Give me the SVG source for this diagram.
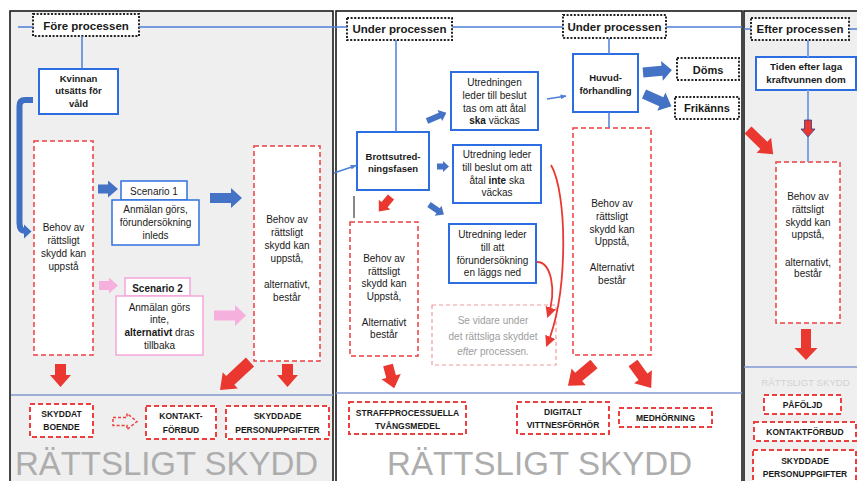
<svg xmlns="http://www.w3.org/2000/svg" width="857" height="481" viewBox="0 0 857 481">
  <defs>
    <style>
      text { font-family: "Liberation Sans", Arial, sans-serif; fill: #1a1a1a; text-anchor: middle; }
      .hd { font-size: 11.5px; font-weight: bold; }
      .t10 { font-size: 10px; }
      .b9 { font-size: 9.5px; font-weight: bold; }
      .cap { font-size: 8.5px; font-weight: bold; }
      .big { font-size: 33px; fill: #adadad; text-anchor: start; }
      .panel { stroke: #1a1a1a; stroke-width: 1.6; }
      .dot { fill: #fff; stroke: #222; stroke-width: 2; stroke-dasharray: 2 1.6; }
      .blue { fill: #fff; stroke: #2c6ee2; stroke-width: 2; }
      .blue15 { fill: #fff; stroke: #2f70e0; stroke-width: 1.5; }
      .pink { fill: #fff; stroke: #f3a6da; stroke-width: 1.5; }
      .rd { fill: #fff; stroke: #ee3f3f; stroke-width: 1.5; stroke-dasharray: 5 3; }
      .rdb { fill: #fff; stroke: #ee3f3f; stroke-width: 2; stroke-dasharray: 5 3; }
      .rdl { fill: #fff; stroke: #f29a9a; stroke-width: 1.2; stroke-dasharray: 4 3; }
      .ln { stroke: #4d7fd6; stroke-width: 1.5; fill: none; }
      .fb { fill: #4472c4; }
      .fr { fill: #ea3730; }
      .fp { fill: #f5b0de; }
      .curve { stroke: #e83a33; stroke-width: 1.8; fill: none; }
    </style>
    <marker id="redHead" viewBox="0 0 10 10" refX="8" refY="5" markerWidth="11" markerHeight="11" markerUnits="userSpaceOnUse" orient="auto">
      <path d="M0,0 L10,5 L0,10 Z" fill="#e83a33"/>
    </marker>
    <marker id="blueHead" viewBox="0 0 10 10" refX="9" refY="5" markerWidth="6" markerHeight="6" markerUnits="userSpaceOnUse" orient="auto">
      <path d="M0,1 L10,5 L0,9 Z" fill="#4d7fd6"/>
    </marker>
  </defs>

  <rect width="857" height="481" fill="#fff"/>

  <!-- three phase panels -->
  <rect class="panel" x="10" y="11" width="323" height="480" fill="#efefef"/>
  <rect class="panel" x="336" y="11" width="406" height="480" fill="#fff"/>
  <rect class="panel" x="744" y="11" width="120" height="480" fill="#efefef"/>

  <!-- large section captions -->
  <text class="big" x="15" y="475" textLength="303">RÄTTSLIGT SKYDD</text>
  <text class="big" x="387" y="475" textLength="305">RÄTTSLIGT SKYDD</text>
  <text x="805.5" y="385.5" style="font-size:9.6px; fill:#d2d2d2">RÄTTSLIGT SKYDD</text>

  <!-- before the process -->
  <g id="fore-processen">
    <rect class="dot" x="33" y="14" width="106" height="22"/>
    <text class="hd" x="86" y="30">Före processen</text>
  </g>
  <g id="kvinnan">
    <rect class="blue" x="39" y="69" width="79" height="45"/>
    <text class="b9" x="78.5" y="81.5">Kvinnan</text>
    <text class="b9" x="78.5" y="94">utsätts för</text>
    <text class="b9" x="78.5" y="106.5">våld</text>
  </g>
  <g id="behov-fore-1">
    <rect class="rd" x="34" y="141" width="59" height="214"/>
    <text class="t10" x="63.5" y="231">Behov av</text>
    <text class="t10" x="63.5" y="244">rättsligt</text>
    <text class="t10" x="63.5" y="257">skydd kan</text>
    <text class="t10" x="63.5" y="270">uppstå</text>
  </g>
  <g id="scenario-1">
    <rect class="blue15" x="121" y="181" width="66" height="19"/>
    <text class="t10" x="154" y="194.5">Scenario 1</text>
    <rect class="blue15" x="112" y="200" width="87" height="45"/>
    <text class="t10" x="155.5" y="213">Anmälan görs,</text>
    <text class="t10" x="155.5" y="226">förundersökning</text>
    <text class="t10" x="155.5" y="239">inleds</text>
  </g>
  <g id="scenario-2">
    <rect class="pink" x="125" y="278" width="65" height="18"/>
    <text class="t10" x="157.5" y="291.5" font-weight="bold">Scenario 2</text>
    <rect class="pink" x="116" y="296" width="87" height="59"/>
    <text class="t10" x="159.5" y="310.5">Anmälan görs</text>
    <text class="t10" x="159.5" y="323">inte,</text>
    <text class="t10" x="159.5" y="335.5"><tspan font-weight="bold">alternativt</tspan> dras</text>
    <text class="t10" x="159.5" y="348.5">tillbaka</text>
  </g>
  <g id="behov-fore-2">
    <rect class="rd" x="254" y="146" width="66" height="215"/>
    <text class="t10" x="287" y="223">Behov av</text>
    <text class="t10" x="287" y="236">rättsligt</text>
    <text class="t10" x="287" y="249">skydd kan</text>
    <text class="t10" x="287" y="262">uppstå,</text>
    <text class="t10" x="287" y="288">alternativt,</text>
    <text class="t10" x="287" y="301">består</text>
  </g>
  <g id="skyddat-boende">
    <rect class="rdb" x="30" y="404" width="63" height="33"/>
    <text class="cap" x="61.5" y="416.5">SKYDDAT</text>
    <text class="cap" x="61.5" y="429.5">BOENDE</text>
  </g>
  <g id="kontaktforbud-1">
    <rect class="rdb" x="146" y="406" width="70" height="33"/>
    <text class="cap" x="181" y="419">KONTAKT-</text>
    <text class="cap" x="181" y="433">FÖRBUD</text>
  </g>
  <g id="skyddade-personuppgifter-1">
    <rect class="rdb" x="226" y="406" width="103" height="33"/>
    <text class="cap" x="277.5" y="419">SKYDDADE</text>
    <text class="cap" x="277.5" y="433">PERSONUPPGIFTER</text>
  </g>

  <!-- during the process -->
  <g id="under-processen-1">
    <rect class="dot" x="347" y="18" width="105" height="22"/>
    <text class="hd" x="399.5" y="33">Under processen</text>
  </g>
  <g id="under-processen-2">
    <rect class="dot" x="563" y="15" width="103" height="23"/>
    <text class="hd" x="614.5" y="31">Under processen</text>
  </g>
  <g id="brottsutredningsfasen">
    <rect class="blue" x="357" y="132" width="72" height="58"/>
    <text class="b9" x="393" y="159.5">Brottsutred-</text>
    <text class="b9" x="393" y="171.5">ningsfasen</text>
  </g>
  <g id="atal-vackas">
    <rect class="blue" x="451" y="72" width="87" height="58"/>
    <text class="t10" x="494.5" y="85.5">Utredningen</text>
    <text class="t10" x="494.5" y="98.5">leder till beslut</text>
    <text class="t10" x="494.5" y="111.5">tas om att åtal</text>
    <text class="t10" x="494.5" y="124"><tspan font-weight="bold">ska</tspan> väckas</text>
  </g>
  <g id="atal-inte-vackas">
    <rect class="blue" x="453" y="145" width="88" height="58"/>
    <text class="t10" x="497" y="157.5">Utredning leder</text>
    <text class="t10" x="497" y="170.5">till beslut om att</text>
    <text class="t10" x="497" y="184">åtal <tspan font-weight="bold">inte</tspan> ska</text>
    <text class="t10" x="497" y="196">väckas</text>
  </g>
  <g id="forundersokning-laggs-ned">
    <rect class="blue" x="449" y="224" width="87" height="59"/>
    <text class="t10" x="492.5" y="237.5">Utredning leder</text>
    <text class="t10" x="492.5" y="250.5">till att</text>
    <text class="t10" x="492.5" y="263.5">förundersökning</text>
    <text class="t10" x="492.5" y="276">en läggs ned</text>
  </g>
  <g id="se-vidare">
    <rect class="rdl" x="432" y="305" width="124" height="60"/>
    <text class="t10" x="493" y="323.5" style="fill:#9d9d9d">Se vidare under</text>
    <text class="t10" x="493" y="339.5" style="fill:#9d9d9d">det rättsliga skyddet</text>
    <text class="t10" x="493" y="354.5" style="fill:#9d9d9d"><tspan font-style="italic">efter</tspan> processen.</text>
  </g>
  <g id="behov-under-1">
    <rect class="rd" x="350" y="222" width="68" height="134"/>
    <text class="t10" x="384" y="261.5">Behov av</text>
    <text class="t10" x="384" y="274.5">rättsligt</text>
    <text class="t10" x="384" y="287">skydd kan</text>
    <text class="t10" x="384" y="299.5">Uppstå,</text>
    <text class="t10" x="384" y="325.5">Alternativt</text>
    <text class="t10" x="384" y="338">består</text>
  </g>
  <g id="huvudforhandling">
    <rect class="blue" x="573" y="54" width="65" height="58"/>
    <text class="b9" x="605.5" y="80.5">Huvud-</text>
    <text class="b9" x="605.5" y="93.5">förhandling</text>
  </g>
  <g id="doms">
    <rect class="dot" x="677" y="58" width="62" height="22"/>
    <text x="708" y="74" style="font-size:11px; font-weight:bold">Döms</text>
  </g>
  <g id="frikanns">
    <rect class="dot" x="675" y="97" width="64" height="22"/>
    <text x="707" y="112" style="font-size:11px; font-weight:bold">Frikänns</text>
  </g>
  <g id="behov-under-2">
    <rect class="rd" x="573" y="128" width="78" height="227"/>
    <text class="t10" x="612" y="206.5">Behov av</text>
    <text class="t10" x="612" y="219.5">rättsligt</text>
    <text class="t10" x="612" y="232.5">skydd kan</text>
    <text class="t10" x="612" y="245">Uppstå,</text>
    <text class="t10" x="612" y="270.5">Alternativt</text>
    <text class="t10" x="612" y="283.5">består</text>
  </g>
  <g id="tvangsmedel">
    <rect class="rdb" x="349" y="402" width="117" height="32"/>
    <text class="cap" x="407.5" y="416">STRAFFPROCESSUELLA</text>
    <text class="cap" x="407.5" y="429">TVÅNGSMEDEL</text>
  </g>
  <g id="digitalt-vittnesforhor">
    <rect class="rdb" x="517" y="402" width="92" height="32"/>
    <text class="cap" x="563" y="415">DIGITALT</text>
    <text class="cap" x="563" y="428">VITTNESFÖRHÖR</text>
  </g>
  <g id="medhorning">
    <rect class="rdb" x="619" y="408" width="93" height="19"/>
    <text class="cap" x="665.5" y="421">MEDHÖRNING</text>
  </g>

  <!-- after the process -->
  <g id="efter-processen">
    <rect class="dot" x="751" y="18" width="98" height="22"/>
    <text class="hd" x="800" y="33">Efter processen</text>
  </g>
  <g id="laga-kraft">
    <rect class="blue" x="756" y="57" width="100" height="33"/>
    <text x="806" y="70" style="font-size:9.8px; font-weight:bold">Tiden efter laga</text>
    <text x="806" y="82.5" style="font-size:9.8px; font-weight:bold">kraftvunnen dom</text>
  </g>
  <g id="behov-efter">
    <rect class="rd" x="776" y="162" width="64" height="161"/>
    <text class="t10" x="808" y="199.5">Behov av</text>
    <text class="t10" x="808" y="212.5">rättsligt</text>
    <text class="t10" x="808" y="225.5">skydd kan</text>
    <text class="t10" x="808" y="237.5">uppstå,</text>
    <text class="t10" x="808" y="265.5">alternativt,</text>
    <text class="t10" x="808" y="277">består</text>
  </g>
  <g id="pafoljd">
    <rect class="rdb" x="764" y="395" width="77" height="19"/>
    <text class="cap" x="802.5" y="408">PÅFÖLJD</text>
  </g>
  <g id="kontaktforbud-2">
    <rect class="rdb" x="754" y="422" width="102" height="19"/>
    <text class="cap" x="805" y="435">KONTAKTFÖRBUD</text>
  </g>
  <g id="skyddade-personuppgifter-2">
    <rect class="rdb" x="753" y="450" width="103" height="36"/>
    <text class="cap" x="805" y="464">SKYDDADE</text>
    <text class="cap" x="805" y="477">PERSONUPPGIFTER</text>
  </g>

  <g id="connectors">
    <!-- timeline lines -->
    <line class="ln" x1="18" y1="27" x2="33" y2="27"/>
    <line class="ln" x1="139" y1="27" x2="347" y2="27"/>
    <line class="ln" x1="452" y1="27" x2="563" y2="27"/>
    <line class="ln" x1="666" y1="27" x2="742" y2="27"/>
    <line class="ln" x1="744" y1="29" x2="751" y2="29"/>
    <line class="ln" x1="849" y1="29" x2="857" y2="29"/>
    <!-- protection baselines -->
    <line stroke="#7f9ad0" stroke-width="1.5" x1="11" y1="395" x2="333" y2="395"/>
    <line stroke="#7f9ad0" stroke-width="1.5" x1="336" y1="393" x2="742" y2="393"/>
    <line stroke="#7f9ad0" stroke-width="1.5" x1="744" y1="367" x2="857" y2="367"/>

    <!-- vertical links -->
    <line class="ln" x1="82" y1="36" x2="82" y2="69"/>
    <line class="ln" x1="396" y1="40" x2="396" y2="132"/>
    <line class="ln" x1="609" y1="38" x2="609" y2="54"/>
    <line class="ln" x1="609" y1="112" x2="609" y2="128"/>
    <line stroke="#7fa2e2" stroke-width="2" x1="808" y1="40" x2="808" y2="57"/>
    <line stroke="#7fa2e2" stroke-width="2" x1="808" y1="90" x2="808" y2="162"/>

    <!-- bent arrow from the violence box down to the first need box -->
    <path d="M33,100 L25,100 Q19.5,100 19.5,106 L19.5,223 Q19.5,231 25,231" stroke="#3f6fc3" stroke-width="6" fill="none"/>
    <path d="M24,224.5 L31.5,231.5 L24,238.5 Z" fill="#3f6fc3"/>

    <!-- thin blue arrows -->
    <line class="ln" x1="334" y1="173" x2="356" y2="165.5" marker-end="url(#blueHead)"/>
    <line class="ln" x1="547" y1="99" x2="566" y2="96" marker-end="url(#blueHead)"/>
    <line stroke="#111" stroke-width="1" x1="354" y1="196" x2="354" y2="218"/>

    <!-- block arrows, left panel -->
    <path class="fb" transform="translate(98,189)" d="M0,-4.5H10V-8.5L20,0L10,8.5V4.5H0Z"/>
    <path class="fb" transform="translate(210,198)" d="M0,-5H21V-10L32,0L21,10V5H0Z"/>
    <path class="fp" transform="translate(99,285.5)" d="M0,-4.5H10V-8L19,0L10,8V4.5H0Z"/>
    <path class="fp" transform="translate(214,315.5)" d="M0,-5H21V-10.5L32,0L21,10.5V5H0Z"/>
    <path class="fr" transform="translate(60.5,364) rotate(90)" d="M0,-5.5H11V-10.5L23,0L11,10.5V5.5H0Z"/>
    <path class="fr" transform="translate(287.5,364) rotate(90)" d="M0,-5.5H11V-10.5L23,0L11,10.5V5.5H0Z"/>
    <path class="fr" transform="translate(250,362) rotate(137)" d="M0,-6H27V-11L41,0L27,11V6H0Z"/>
    <path transform="translate(113,421.5)" d="M0,-4H14V-8L24,0L14,8V4H0Z" fill="none" stroke="#ee3f3f" stroke-width="1.5" stroke-dasharray="3 2"/>

    <!-- block arrows, middle panel -->
    <path class="fb" transform="translate(427,121) rotate(-23)" d="M0,-3H14V-6L21,0L14,6V3H0Z"/>
    <path class="fb" transform="translate(437,166.5)" d="M0,-3H6V-5.5L12,0L6,5.5V3H0Z"/>
    <path class="fb" transform="translate(429,204.5) rotate(34)" d="M0,-3H11V-6L18,0L11,6V3H0Z"/>
    <path class="fr" transform="translate(391,197) rotate(130)" d="M0,-4H10V-7.5L19,0L10,7.5V4H0Z"/>
    <path class="fb" transform="translate(643,72.5) rotate(-5)" d="M0,-5H19V-10L29,0L19,10V5H0Z"/>
    <path class="fb" transform="translate(644,94) rotate(24)" d="M0,-5H19V-10L30,0L19,10V5H0Z"/>
    <path class="fr" transform="translate(388,365) rotate(75)" d="M0,-5H12V-10L24,0L12,10V5H0Z"/>
    <path class="fr" transform="translate(594,364) rotate(140)" d="M0,-5.5H20V-11L34,0L20,11V5.5H0Z"/>
    <path class="fr" transform="translate(633,363) rotate(54)" d="M0,-5.5H17V-11L31,0L17,11V5.5H0Z"/>

    <!-- curved red arrows towards the after-process note -->
    <path class="curve" d="M537,262 C551,262 557,290 548,316" marker-end="url(#redHead)"/>
    <path class="curve" d="M551,165 C567,192 569,292 547,345" marker-end="url(#redHead)"/>

    <!-- block arrows, right panel -->
    <path class="fr" transform="translate(808,120) rotate(90)" d="M0,-3.5H9V-7L17,0L9,7V3.5H0Z" stroke="#2a3f8f" stroke-width="0.8"/>
    <path class="fr" transform="translate(748,130) rotate(44)" d="M0,-5H22V-10.5L35,0L22,10.5V5H0Z"/>
    <path class="fr" transform="translate(806,329) rotate(90)" d="M0,-5H19V-11.5L31,0L19,11.5V5H0Z"/>
  </g>
</svg>
